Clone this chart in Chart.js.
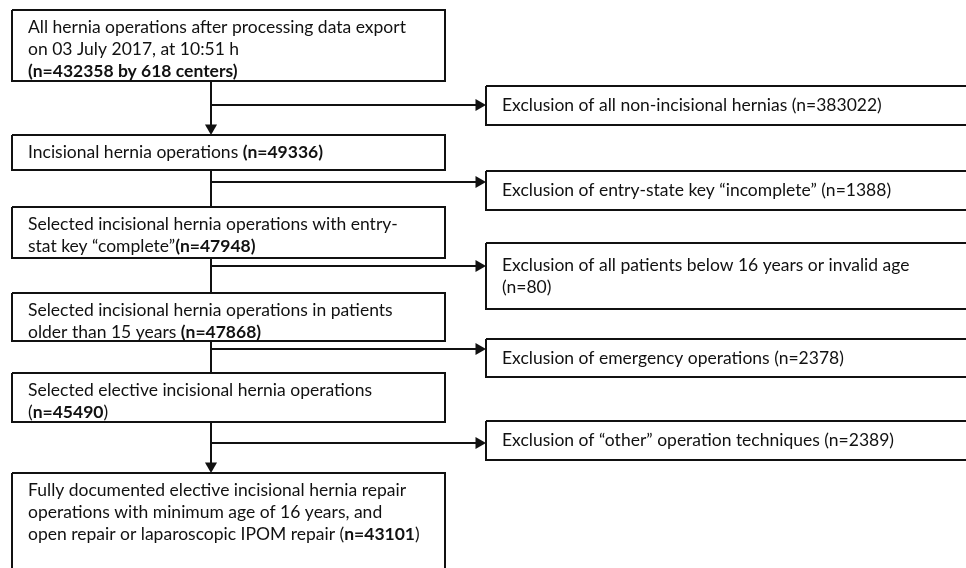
<!DOCTYPE html>
<html>
<head>
<meta charset="utf-8">
<script src="https://cdn.jsdelivr.net/npm/chart.js@4.4.1/dist/chart.umd.min.js"></script>
<style>
  html, body { margin: 0; padding: 0; background: #fff; }
  #wrap { width: 966px; height: 568px; position: relative; }
</style>
</head>
<body>
<div id="wrap"><canvas id="flow"></canvas></div>
<script>
// Flow stages (left column) and their counts, {n} gets the count, **...** is bold
const stageText = [
    ["All hernia operations after processing data export", "on 03 July 2017, at 10:51 h", "**(n={n} by 618 centers)**"],
    ["Incisional hernia operations **(n={n})**"],
    ["Selected incisional hernia operations with entry-", "stat key \u201ccomplete\u201d**(n={n})**"],
    ["Selected incisional hernia operations in patients", "older than 15 years **(n={n})**"],
    ["Selected elective incisional hernia operations", "(**n={n}**)"],
    ["Fully documented elective incisional hernia repair", "operations with minimum age of 16 years, and", "open repair or laparoscopic IPOM repair (**n={n}**)"]
];
const stageCounts = [432358, 49336, 47948, 47868, 45490, 43101];

// Exclusions (right column)
const exclusionText = [
    ["Exclusion of all non-incisional hernias (n={n})"],
    ["Exclusion of entry-state key \u201cincomplete\u201d (n={n})"],
    ["Exclusion of all patients below 16 years or invalid age", "(n={n})"],
    ["Exclusion of emergency operations (n={n})"],
    ["Exclusion of \u201cother\u201d operation techniques (n={n})"]
];
const exclusionCounts = [383022, 1388, 80, 2378, 2389];

// layout in axis units (axis spans 0..966 x 0..568)
const stageTop = [10, 135, 207, 293, 373, 473];
const stageBottom = [81, 170, 258, 341, 422, 590];
const exclTop = [86, 171, 243, 339, 421];
const exclBottom = [125, 210, 309, 377, 460];
const branchY = [105, 182, 266, 349, 443];
const trunkHasHead = [true, false, false, false, true];
const leftX = [12, 445];
const rightX = [486, 975];
const trunkX = 211;
const headR = 7;

const FONT = 'Lato, "Noto Sans", sans-serif';
const FONT_SIZE = 17.5;
const LINE_H = 22;

function boxPoints(x0, y0, x1, y1) {
    return [{x: x0, y: y0}, {x: x1, y: y0}, {x: x1, y: y1}, {x: x0, y: y1}, {x: x0, y: y0}];
}

const lineStyle = {
    showLine: true,
    borderColor: '#111',
    borderWidth: 2,
    pointRadius: 0,
    tension: 0,
    borderJoinStyle: 'miter',
    borderCapStyle: 'butt',
    fill: false
};

const datasets = [];

// boxes
stageTop.forEach((t, i) => {
    datasets.push({...lineStyle, data: boxPoints(leftX[0], t, leftX[1], stageBottom[i])});
});
exclTop.forEach((t, i) => {
    datasets.push({...lineStyle, data: boxPoints(rightX[0], t, rightX[1], exclBottom[i])});
});

// trunk segments between stages
trunkHasHead.forEach((head, i) => {
    const end = head ? stageTop[i + 1] - headR : stageTop[i + 1];
    datasets.push({...lineStyle, data: [{x: trunkX, y: stageBottom[i]}, {x: trunkX, y: end}]});
});

// branches to the exclusions
branchY.forEach(by => {
    datasets.push({...lineStyle, data: [{x: trunkX - 1, y: by}, {x: rightX[0] - headR, y: by}]});
});

// arrow heads
const heads = [];
const headRot = [];
trunkHasHead.forEach((head, i) => {
    if (head) {
        heads.push({x: trunkX, y: stageTop[i + 1] - headR});
        headRot.push(180);
    }
});
branchY.forEach(by => {
    heads.push({x: rightX[0] - headR, y: by});
    headRot.push(90);
});
datasets.push({
    data: heads,
    showLine: false,
    pointStyle: 'triangle',
    pointRadius: headR,
    pointRotation: headRot,
    pointBackgroundColor: '#111',
    pointBorderWidth: 0,
    pointBorderColor: '#111'
});

function drawRich(ctx, line, x, y) {
    const parts = line.split('**');
    let cx = x;
    parts.forEach((part, k) => {
        ctx.font = (k % 2 === 1 ? 'bold ' : '') + FONT_SIZE + 'px ' + FONT;
        ctx.fillText(part, cx, y);
        cx += ctx.measureText(part).width;
    });
}

const textPlugin = {
    id: 'flowText',
    afterDatasetsDraw(chart) {
        const {ctx, scales: {x, y}} = chart;
        ctx.save();
        ctx.fillStyle = '#111';
        ctx.textBaseline = 'middle';
        ctx.textAlign = 'left';
        // stage texts: top aligned
        stageText.forEach((lines, i) => {
            lines.forEach((ln, j) => {
                const txt = ln.replace('{n}', stageCounts[i]);
                drawRich(ctx, txt, x.getPixelForValue(leftX[0] + 16), y.getPixelForValue(stageTop[i] + 17 + j * LINE_H));
            });
        });
        // exclusion texts: vertically centred
        exclusionText.forEach((lines, i) => {
            const mid = (exclTop[i] + exclBottom[i]) / 2;
            const first = mid - (lines.length - 1) * LINE_H / 2;
            lines.forEach((ln, j) => {
                const txt = ln.replace('{n}', exclusionCounts[i]);
                drawRich(ctx, txt, x.getPixelForValue(rightX[0] + 16), y.getPixelForValue(first + j * LINE_H));
            });
        });
        ctx.restore();
    }
};

new Chart(document.getElementById('flow'), {
    type: 'scatter',
    data: {datasets: datasets},
    options: {
        responsive: true,
        maintainAspectRatio: false,
        animation: false,
        layout: {padding: 0, autoPadding: false},
        plugins: {
            legend: {display: false},
            tooltip: {enabled: false}
        },
        scales: {
            x: {type: 'linear', min: 0, max: 966, display: false},
            y: {type: 'linear', min: 0, max: 568, reverse: true, display: false}
        }
    },
    plugins: [textPlugin]
});
</script>
</body>
</html>
